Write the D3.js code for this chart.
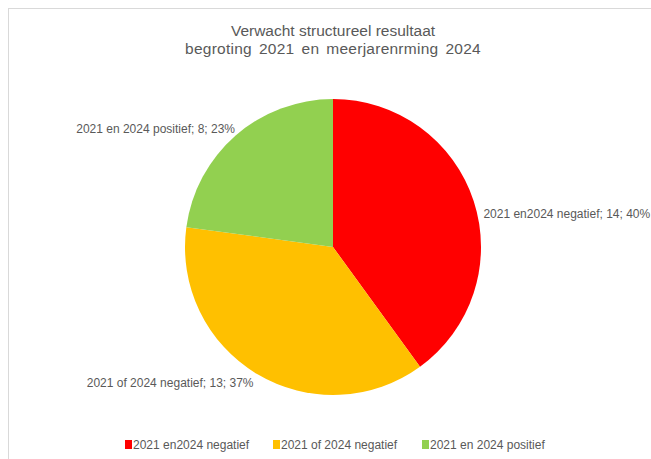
<!DOCTYPE html>
<html>
<head>
<meta charset="utf-8">
<script src="https://cdn.jsdelivr.net/npm/d3@7"></script>
<style>
  body { margin: 0; background: #fff; }
  text { font-family: "Liberation Sans", Arial, sans-serif; fill: #595959; }
</style>
</head>
<body>
<div class="pie-content"></div>
<script>
// data
var categories = ['2021 en2024 negatief', '2021 of 2024 negatief', '2021 en 2024 positief'];
var counts = [14, 13, 8];
var percents = ['40%', '37%', '23%'];
var colors = ['#FF0000', '#FFC000', '#92D050'];
var titleLines = ['Verwacht structureel resultaat', 'begroting 2021 en meerjarenrming 2024'];

var svgWidth = 651,
    svgHeight = 459;
// pie center and radius
var cx = 333,
    cy = 247,
    radius = 148;

var svg = d3.select('.pie-content')
    .append('svg')
    .attr('width', svgWidth)
    .attr('height', svgHeight);

// chart frame (runs off right and bottom)
svg.append('rect')
    .attr('x', 8.5)
    .attr('y', 8.5)
    .attr('width', 700)
    .attr('height', 500)
    .style('fill', 'none')
    .style('stroke', '#d9d9d9');

// title
svg.append('g')
    .classed('title', true)
    .selectAll('text')
    .data(titleLines)
    .enter()
    .append('text')
    .attr('x', cx)
    .attr('y', function(d, i) { return 36 + i * 18; })
    .attr('text-anchor', 'middle')
    .style('font-size', '15.5px')
    .style('word-spacing', function(d, i) { return i == 1 ? '2.5px' : '0px'; })
    .style('letter-spacing', function(d, i) { return i == 1 ? '0.25px' : '0px'; })
    .text(function(d) { return d; });

var data = categories.map(function(c, i) {
    return { name: c, value: counts[i], pct: percents[i], color: colors[i] };
});

var pie = d3.pie()
    .sort(null)
    .value(function(d) { return d.value; });
var arcs = pie(data);

var arc = d3.arc().innerRadius(0).outerRadius(radius);

var g = svg.append('g')
    .attr('transform', 'translate(' + cx + ',' + cy + ')');

g.selectAll('path')
    .data(arcs)
    .enter()
    .append('path')
    .attr('d', arc)
    .style('fill', function(d) { return d.data.color; })
    .style('stroke', 'none');

// data labels, outside end
var labelNudge = [{ x: 3, y: 15 }, { x: 0, y: 3 }, { x: 4, y: -1 }];
g.selectAll('text.label')
    .data(arcs)
    .enter()
    .append('text')
    .classed('label', true)
    .attr('x', function(d, i) {
        var mid = (d.startAngle + d.endAngle) / 2;
        var x = (radius + 7) * Math.sin(mid);
        return x + labelNudge[i].x;
    })
    .attr('y', function(d, i) {
        var mid = (d.startAngle + d.endAngle) / 2;
        var y = -(radius + 7) * Math.cos(mid);
        return y + labelNudge[i].y;
    })
    .attr('dy', '0.35em')
    .attr('text-anchor', function(d) {
        var mid = (d.startAngle + d.endAngle) / 2;
        return mid < Math.PI ? 'start' : 'end';
    })
    .style('font-size', '12px')
    .text(function(d) { return d.data.name + '; ' + d.data.value + '; ' + d.data.pct; });

// legend
var legendX = [125, 273, 422];
var legend = svg.append('g').classed('legend', true);
var items = legend.selectAll('g')
    .data(data)
    .enter()
    .append('g')
    .attr('transform', function(d, i) { return 'translate(' + legendX[i] + ',445)'; });
items.append('rect')
    .attr('x', 0)
    .attr('y', -5)
    .attr('width', 7)
    .attr('height', 9)
    .style('fill', function(d) { return d.color; });
items.append('text')
    .attr('x', 8)
    .attr('y', 0)
    .attr('dy', '0.35em')
    .style('font-size', '12px')
    .text(function(d) { return d.name; });
</script>
</body>
</html>
